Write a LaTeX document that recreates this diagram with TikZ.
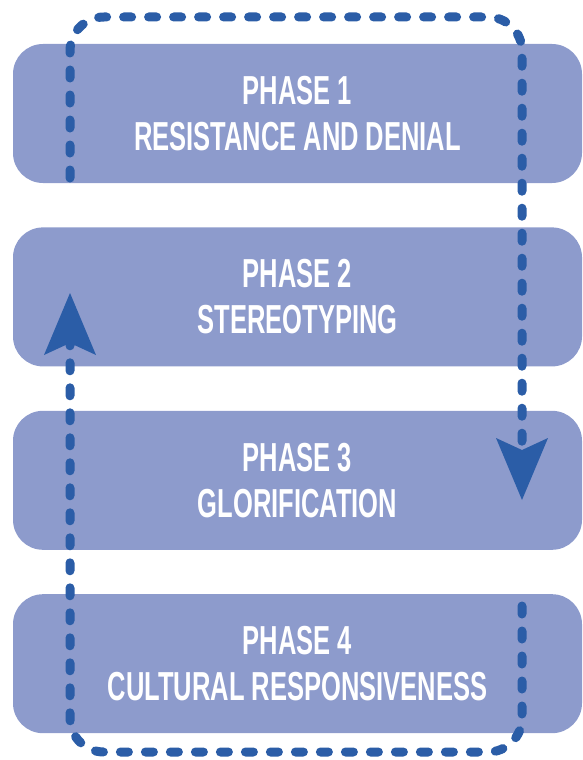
\documentclass[tikz,border=0pt]{standalone}
\usepackage{fontspec}
\setmainfont[FakeStretch=0.63]{Liberation Sans}
\usetikzlibrary{arrows.meta,positioning}
\definecolor{phasefill}{HTML}{8D9BCC}
\definecolor{loopblue}{HTML}{2B5DA7}

\begin{document}
\begin{tikzpicture}[x=1pt,y=-1pt]
\tikzstyle{phase}=[fill=phasefill,rounded corners=30pt,minimum width=569pt,minimum height=139pt,
  inner sep=0pt,text=white,align=center,font=\fontsize{40.5}{46}\selectfont\bfseries]
\tikzstyle{loop}=[draw=loopblue,line width=9pt,line cap=round,dash pattern=on 8pt off 17pt,rounded corners=34pt]
\tikzstyle{tip}=[-{Stealth[length=62pt,width=52pt,inset=12pt,line width=0pt]}]
\useasboundingbox (0,0) rectangle (582,760);

%phases
\node[phase] (p1) at (297.5,113.5) {PHASE 1\\RESISTANCE AND DENIAL};
\node[phase,below=44pt of p1] (p2) {PHASE 2\\STEREOTYPING};
\node[phase,below=44pt of p2] (p3) {PHASE 3\\GLORIFICATION};
\node[phase,below=44pt of p3] (p4) {PHASE 4\\CULTURAL RESPONSIVENESS};

%the loop round them
\coordinate (upstart) at (70,178);
\coordinate (tl) at (70,17);
\coordinate (tr) at (522,17);
\coordinate (downtip) at (522,500);
\coordinate (lowstart) at (522,606);
\coordinate (br) at (522,752);
\coordinate (bl) at (70,752);
\coordinate (uptip) at (70,293);

\draw[loop,tip] (upstart) -- (tl) -- (tr) -- (downtip);
\draw[loop,tip] (lowstart) -- (br) -- (bl) -- (uptip);
\end{tikzpicture}
\end{document}
